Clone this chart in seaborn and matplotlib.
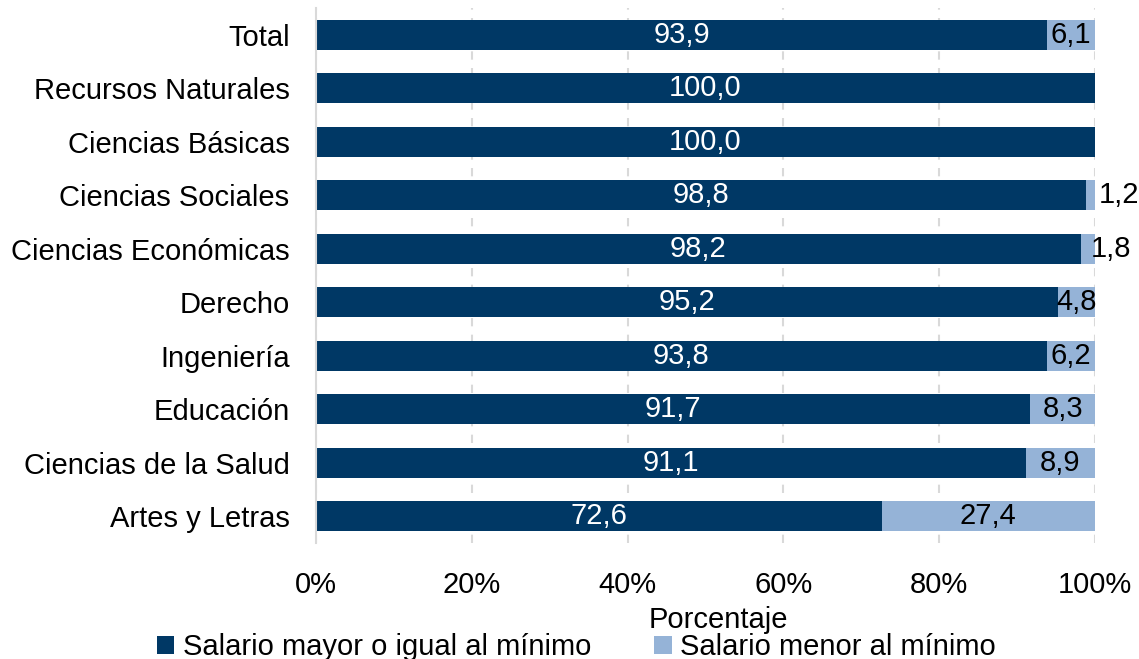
import seaborn as sns
import matplotlib.pyplot as plt
import pandas as pd

# data
categories = ["Total", "Recursos Naturales", "Ciencias Básicas", "Ciencias Sociales",
              "Ciencias Económicas", "Derecho", "Ingeniería", "Educación",
              "Ciencias de la Salud", "Artes y Letras"]
mayor_igual = [93.9, 100.0, 100.0, 98.8, 98.2, 95.2, 93.8, 91.7, 91.1, 72.6]
menor = [6.1, 0.0, 0.0, 1.2, 1.8, 4.8, 6.2, 8.3, 8.9, 27.4]
x_ticks = [0, 20, 40, 60, 80, 100]

dark = "#003865"
light = "#95B3D7"

sns.set_theme(style="white")
plt.rcParams['font.family'] = ['Liberation Sans', 'DejaVu Sans']
plt.rcParams['text.color'] = 'black'
plt.rcParams['xtick.color'] = 'black'
plt.rcParams['ytick.color'] = 'black'
plt.rcParams['axes.labelcolor'] = 'black'

df = pd.DataFrame({"cat": categories, "ge": mayor_igual, "lt": menor})
df["total"] = df["ge"] + df["lt"]

fig, ax = plt.subplots(figsize=(11.39, 6.59), dpi=100)
fig.subplots_adjust(left=316 / 1139, right=1095 / 1139, top=1 - 8 / 659, bottom=1 - 543 / 659)

# stacked bars: draw the total in light, then the first segment in dark on top
sns.barplot(data=df, x="total", y="cat", orient="h", color=light, width=0.57,
            saturation=1, linewidth=0, ax=ax, label="Salario menor al mínimo")
sns.barplot(data=df, x="ge", y="cat", orient="h", color=dark, width=0.57,
            saturation=1, linewidth=0, ax=ax, label="Salario mayor o igual al mínimo")

fs = 21
fmt = lambda v: f"{v:.1f}".replace(".", ",")
for i, row in df.iterrows():
    ax.text(row["ge"] / 2, i, fmt(row["ge"]), color="white", fontsize=fs,
            ha="center", va="center")
    if row["lt"] <= 0:
        continue
    if row["lt"] < 3:
        # too small to fit inside: write just right of the bar
        ax.annotate(fmt(row["lt"]), xy=(row["total"], i), xytext=(3 if row["lt"] < 1.5 else -3, 0),
                    textcoords="offset points", ha="left", va="center",
                    color="black", fontsize=fs)
    else:
        ax.text(row["ge"] + row["lt"] / 2, i, fmt(row["lt"]), color="black",
                fontsize=fs, ha="center", va="center")

ax.set_xlim(0, 100)
ax.set_xticks(x_ticks)
ax.set_xticklabels([f"{t}%" for t in x_ticks])
ax.set_ylabel("")
ax.set_xlabel("Porcentaje", fontsize=fs)
ax.xaxis.set_label_coords(0.517, -0.117)
ax.tick_params(axis="x", labelsize=fs, length=0, pad=20)
ax.tick_params(axis="y", labelsize=fs, length=0, pad=19)

ax.grid(axis="x", color="#D9D9D9", linestyle=(0, (4, 4)), linewidth=1.5)
ax.set_axisbelow(True)
for s in ["top", "right", "bottom"]:
    ax.spines[s].set_visible(False)
ax.spines["left"].set_color("#D9D9D9")
ax.spines["left"].set_linewidth(1.5)

handles, labels = ax.get_legend_handles_labels()
order = [labels.index("Salario mayor o igual al mínimo"), labels.index("Salario menor al mínimo")]
leg = fig.legend([handles[k] for k in order], [labels[k] for k in order],
                 loc="center", bbox_to_anchor=(0.506, 0.018), ncol=2, frameon=False,
                 fontsize=fs, handlelength=0.6, handleheight=0.6, handletextpad=0.3,
                 columnspacing=2.15, borderpad=0)
if ax.get_legend():
    ax.get_legend().remove()

fig.savefig("out.png", dpi=100)
